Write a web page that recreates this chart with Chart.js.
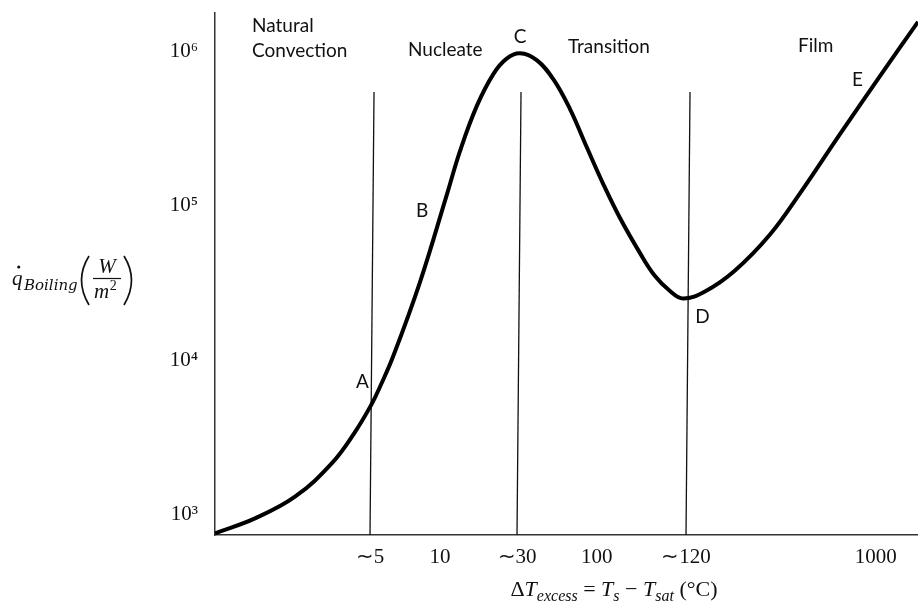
<!DOCTYPE html>
<html>
<head>
<meta charset="utf-8">
<script src="https://cdn.jsdelivr.net/npm/chart.js@4.4.1/dist/chart.umd.min.js"></script>
<style>
  html, body { margin: 0; padding: 0; background: #ffffff; }
  #wrap { width: 918px; height: 604px; position: relative; }
</style>
</head>
<body>
<div id="wrap"><canvas id="c" width="918" height="604"></canvas></div>
<script>
// ---- Data (schematic boiling curve) ----
// x: schematic position along the ΔT axis (0..100), q: heat flux in W/m²
const curveX = [0, 5.69, 11.38, 16.60, 19.91, 22.29, 23.47, 25.36, 29.16, 32.96, 34.85, 37.23, 39.59, 41.49, 43.39, 45.76, 48.12, 50.50, 52.87, 55.23, 57.61, 60.46, 62.59, 64.72, 66.57, 69.70, 73.97, 78.95, 83.21, 88.90, 94.59, 100];
const curveQ = [757, 946, 1306, 2148, 3428, 5203, 6730, 10640, 32090, 117500, 226300, 442400, 714000, 899000, 973000, 879000, 662000, 423600, 240400, 138300, 83370, 49410, 35100, 28070, 25100, 27850, 38100, 65160, 120500, 291700, 693000, 1556000];

// region boundary lines (slightly slanted in the original sketch)
const boundaryTopX = [22.62, 43.53, 67.57];
const boundaryBottomX = [22.05, 42.96, 67.0];
const boundaryTopQ = 546000;

// x ticks
const xTickPos = [22.05, 32.0, 42.96, 54.3, 67.0, 94.0];
const xTickLabels = ['\u223C5', '10', '\u223C30', '100', '\u223C120', '1000'];

// y ticks
const yTickValues = [1e3, 1e4, 1e5, 1e6];
const yTickLabels = ['10\u00B3', '10\u2074', '10\u2075', '10\u2076'];

// axis ranges
const xMin = 0, xMax = 100;
const yMin = 738, yMax = 1775000;

// point labels on the curve
const pointLabels = ['A', 'B', 'C', 'D', 'E'];
const pointLabelX = [20.98, 29.45, 43.39, 69.35, 91.39];
const pointLabelQ = [6600, 84500, 1130000, 17400, 597000];

// regime names
const regionNames = [['Natural', 'Convection'], ['Nucleate'], ['Transition'], ['Film']];
const regionNameX = [5.26, 27.45, 50.21, 82.93];
const regionNameQ = [1336000, 933000, 977000, 991000];

// ---- Build datasets ----
const datasets = [{
  label: 'Boiling curve',
  data: curveX.map((x, i) => ({ x: x, y: curveQ[i] })),
  borderColor: '#000000',
  borderWidth: 4,
  pointRadius: 0,
  tension: 0.4,
  fill: false
}];
boundaryTopX.forEach((tx, i) => {
  datasets.push({
    label: 'boundary ' + (i + 1),
    data: [{ x: boundaryBottomX[i], y: yMin }, { x: tx, y: boundaryTopQ }],
    borderColor: '#111111',
    borderWidth: 1.3,
    pointRadius: 0,
    tension: 0,
    fill: false,
    clip: false
  });
});

const annotationPlugin = {
  id: 'annotations',
  afterDraw(chart) {
    const ctx = chart.ctx;
    const xs = chart.scales.x, ys = chart.scales.y;
    ctx.save();
    ctx.fillStyle = '#111111';
    // regime names
    ctx.font = '19px Lato';
    ctx.textAlign = 'left';
    ctx.textBaseline = 'alphabetic';
    regionNames.forEach((lines, i) => {
      const px = xs.getPixelForValue(regionNameX[i]);
      const py = ys.getPixelForValue(regionNameQ[i]);
      lines.forEach((t, j) => ctx.fillText(t, px, py + j * 25));
    });
    // point labels
    ctx.textAlign = 'center';
    pointLabels.forEach((t, i) => {
      ctx.fillText(t, xs.getPixelForValue(pointLabelX[i]), ys.getPixelForValue(pointLabelQ[i]));
    });

    // x axis title: ΔT_excess = T_s − T_sat (°C)
    const big = 22, small = 16, fam = '"Liberation Serif"';
    const pieces = [
      { t: '\u0394', f: big + 'px ' + fam, dy: 0 },
      { t: 'T', f: 'italic ' + big + 'px ' + fam, dy: 0 },
      { t: 'excess', f: 'italic ' + small + 'px ' + fam, dy: 5 },
      { t: ' = ', f: big + 'px ' + fam, dy: 0 },
      { t: 'T', f: 'italic ' + big + 'px ' + fam, dy: 0 },
      { t: 's', f: 'italic ' + small + 'px ' + fam, dy: 5 },
      { t: ' \u2212 ', f: big + 'px ' + fam, dy: 0 },
      { t: 'T', f: 'italic ' + big + 'px ' + fam, dy: 0 },
      { t: 'sat', f: 'italic ' + small + 'px ' + fam, dy: 5 },
      { t: ' (\u00B0C)', f: big + 'px ' + fam, dy: 0 }
    ];
    ctx.textAlign = 'left';
    let total = 0;
    pieces.forEach(p => { ctx.font = p.f; p.w = ctx.measureText(p.t).width; total += p.w; });
    let cx = 614 - total / 2;
    const base = 596;
    pieces.forEach(p => { ctx.font = p.f; ctx.fillText(p.t, cx, base + p.dy); cx += p.w; });

    // y axis title: q̇_Boiling (W / m²)
    ctx.font = 'italic 21px ' + fam;
    ctx.fillText('q', 12, 285);
    const qw = ctx.measureText('q').width;
    ctx.beginPath();
    ctx.arc(12 + qw / 2 + 1.5, 267, 1.6, 0, Math.PI * 2);
    ctx.fill();
    ctx.font = 'italic 15px "DejaVu Serif"';
    ctx.fillText('Boiling', 24, 290);
    // parentheses
    ctx.strokeStyle = '#111111';
    ctx.lineWidth = 1.7;
    ctx.beginPath();
    ctx.moveTo(89, 256); ctx.quadraticCurveTo(74, 280, 89, 305);
    ctx.moveTo(124, 256); ctx.quadraticCurveTo(139, 280, 124, 305);
    ctx.stroke();
    // fraction
    ctx.font = 'italic 21px ' + fam;
    ctx.textAlign = 'center';
    ctx.fillText('W', 107, 273);
    ctx.lineWidth = 1.2;
    ctx.beginPath(); ctx.moveTo(93, 278.5); ctx.lineTo(121, 278.5); ctx.stroke();
    ctx.textAlign = 'left';
    ctx.font = 'italic 21px ' + fam;
    const mw = ctx.measureText('m').width;
    ctx.fillText('m', 94, 298);
    ctx.font = '14px ' + fam;
    ctx.fillText('2', 94 + mw + 0.5, 290);
    ctx.restore();
  }
};

new Chart(document.getElementById('c'), {
  type: 'line',
  data: { datasets: datasets },
  options: {
    responsive: false,
    animation: false,
    layout: { padding: { top: 13, right: 0, left: 0, bottom: 0 } },
    plugins: { legend: { display: false }, tooltip: { enabled: false } },
    scales: {
      x: {
        type: 'linear',
        min: xMin, max: xMax,
        grid: { display: false, drawTicks: false },
        border: { display: true, color: '#333333', width: 1.5 },
        afterBuildTicks: (axis) => { axis.ticks = xTickPos.map(v => ({ value: v })); },
        afterFit: (scale) => { scale.height = 69; scale.paddingLeft = 0; scale.paddingRight = 0; },
        ticks: {
          autoSkip: false,
          maxRotation: 0,
          padding: 10,
          color: '#111111',
          font: { family: '"Liberation Serif"', size: 21 },
          callback: (v) => { const i = xTickPos.indexOf(v); return i >= 0 ? xTickLabels[i] : ''; }
        }
      },
      y: {
        type: 'logarithmic',
        min: yMin, max: yMax,
        grid: { display: false, drawTicks: false },
        border: { display: true, color: '#333333', width: 1.5 },
        afterBuildTicks: (axis) => { axis.ticks = yTickValues.map(v => ({ value: v })); },
        afterFit: (scale) => { scale.width = 215; scale.paddingTop = 0; scale.paddingBottom = 0; },
        ticks: {
          autoSkip: false,
          padding: 17,
          color: '#111111',
          font: { family: '"Liberation Serif"', size: 21 },
          callback: (v) => { const i = yTickValues.indexOf(v); return i >= 0 ? yTickLabels[i] : ''; }
        }
      }
    }
  },
  plugins: [annotationPlugin]
});
</script>
</body>
</html>
